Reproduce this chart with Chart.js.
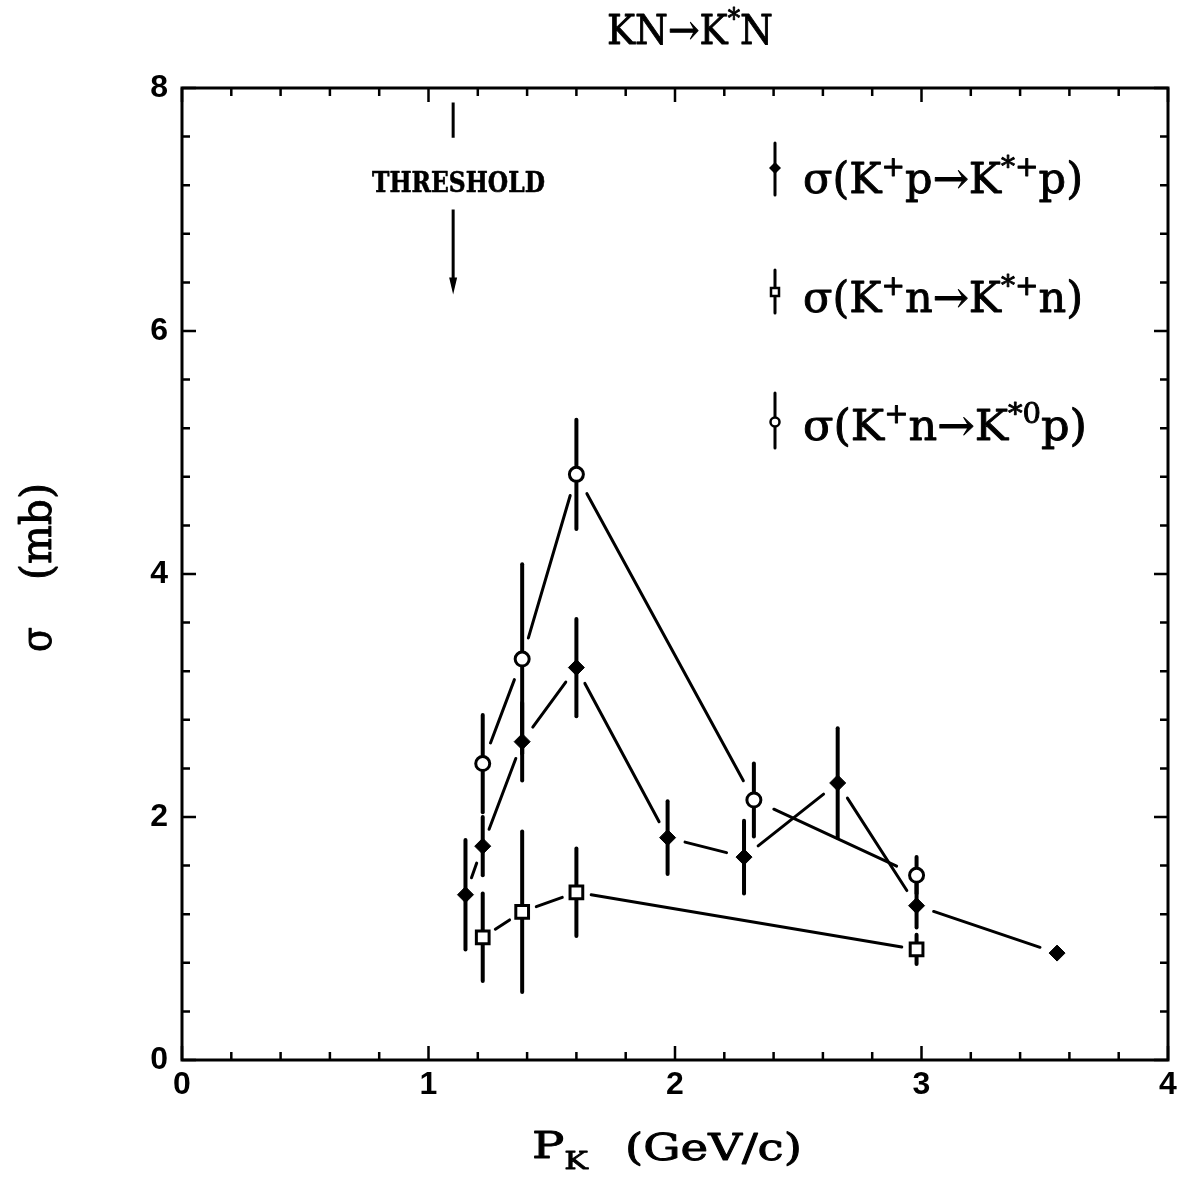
<!DOCTYPE html>
<html>
<head>
<meta charset="utf-8">
<title>KN→K*N</title>
<script src="https://cdn.jsdelivr.net/npm/chart.js@4.4.1/dist/chart.umd.min.js"></script>
<style>
  html, body { margin: 0; padding: 0; background: #fff; }
  #wrap { width: 1194px; height: 1182px; }
</style>
</head>
<body>
<div id="wrap"><canvas id="c" width="1194" height="1182"></canvas></div>
<script>
// Beam momentum P_K (GeV/c), cross section sigma (mb) and its error (mb)

// sigma(K+ p -> K*+ p)
const kpP     = [1.15, 1.22, 1.38, 1.60, 1.97, 2.28, 2.66, 2.98, 3.55];
const kpSigma = [1.36, 1.76, 2.62, 3.23, 1.83, 1.67, 2.28, 1.27, 0.88];
const kpErr   = [0.45, 0.24, 0.32, 0.40, 0.30, 0.30, 0.45, 0.18, 0.00];

// sigma(K+ n -> K*+ n)
const knP     = [1.22, 1.38, 1.60, 2.98];
const knSigma = [1.01, 1.22, 1.38, 0.91];
const knErr   = [0.36, 0.66, 0.36, 0.12];

// sigma(K+ n -> K*0 p)
const k0P     = [1.22, 1.38, 1.60, 2.32, 2.98];
const k0Sigma = [2.44, 3.30, 4.82, 2.14, 1.52];
const k0Err   = [0.40, 0.78, 0.45, 0.30, 0.15];

// axis ticks
const xMajorTicks = [0, 1, 2, 3, 4];
const yMajorTicks = [0, 2, 4, 6, 8];
const xMinorStep = 0.2;
const yMinorStep = 0.4;

// threshold momentum marked with an arrow
const thresholdP = 1.10;

const SERIF = '"DejaVu Serif", "Liberation Serif", serif';
const TICK_FONT = { family: '"Liberation Sans", Arial, sans-serif', size: 32, weight: 'bold' };

function partFont(p, size, weight) {
  const s = p.s ? Math.round(size * 0.66) : size;
  return (weight || 'normal') + ' ' + s + 'px ' + SERIF;
}

// draws a run of text with super/subscripts, stretched horizontally to a given width
function drawRich(ctx, parts, x, y, size, targetW, opts) {
  opts = opts || {};
  let nat = 0;
  for (const p of parts) { ctx.font = partFont(p, size, opts.weight); nat += ctx.measureText(p.t).width; }
  const sx = targetW ? targetW / nat : 1;
  ctx.save();
  ctx.translate(x, y);
  if (opts.rotate) ctx.rotate(opts.rotate);
  ctx.scale(sx, 1);
  ctx.fillStyle = '#000';
  ctx.strokeStyle = '#000';
  ctx.lineWidth = opts.stroke || 0.9;
  ctx.lineJoin = 'round';
  ctx.textAlign = 'left';
  ctx.textBaseline = 'alphabetic';
  let cx = 0;
  for (const p of parts) {
    ctx.font = partFont(p, size, opts.weight);
    const dy = p.s === 'sup' ? -size * 0.40 : (p.s === 'sub' ? size * 0.28 : 0);
    ctx.fillText(p.t, cx, dy);
    ctx.strokeText(p.t, cx, dy);
    cx += ctx.measureText(p.t).width;
  }
  ctx.restore();
}

function pts(xs, ys) { return xs.map((x, i) => ({ x: x, y: ys[i] })); }

const legendItems = [
  { parts: [{t:'σ(K'},{t:'+',s:'sup'},{t:'p→K'},{t:'*+',s:'sup'},{t:'p)'}], ds: 0 },
  { parts: [{t:'σ(K'},{t:'+',s:'sup'},{t:'n→K'},{t:'*+',s:'sup'},{t:'n)'}], ds: 1 },
  { parts: [{t:'σ(K'},{t:'+',s:'sup'},{t:'n→K'},{t:'*0',s:'sup'},{t:'p)'}], ds: 2 }
];

function drawMarker(ctx, style, x, y, r) {
  ctx.save();
  ctx.lineWidth = 2.5;
  ctx.strokeStyle = '#000';
  ctx.beginPath();
  if (style === 'rectRot') {
    ctx.moveTo(x, y - r); ctx.lineTo(x + r, y); ctx.lineTo(x, y + r); ctx.lineTo(x - r, y); ctx.closePath();
    ctx.fillStyle = '#000'; ctx.fill();
  } else if (style === 'rect') {
    ctx.rect(x - r, y - r, 2 * r, 2 * r);
    ctx.fillStyle = '#fff'; ctx.fill(); ctx.stroke();
  } else {
    ctx.arc(x, y, r, 0, Math.PI * 2);
    ctx.fillStyle = '#fff'; ctx.fill(); ctx.stroke();
  }
  ctx.restore();
}

const decorPlugin = {
  id: 'decor',
  beforeDatasetsDraw(chart) {
    const ctx = chart.ctx;
    const ys = chart.scales.y;
    ctx.save();
    ctx.strokeStyle = '#000';
    ctx.lineCap = 'round';
    chart.data.datasets.forEach((ds, i) => {
      const meta = chart.getDatasetMeta(i);
      // connecting line, broken around each marker
      ctx.lineWidth = 3;
      for (let k = 0; k < meta.data.length - 1; k++) {
        const a = meta.data[k], b = meta.data[k + 1];
        const dx = b.x - a.x, dy = b.y - a.y;
        const len = Math.hypot(dx, dy);
        const g = ds.gap;
        if (len <= 2 * g) continue;
        const ux = dx / len, uy = dy / len;
        ctx.beginPath();
        ctx.moveTo(a.x + ux * g, a.y + uy * g);
        ctx.lineTo(b.x - ux * g, b.y - uy * g);
        ctx.stroke();
      }
      // error bars
      ctx.lineWidth = 4;
      meta.data.forEach((el, k) => {
        const e = ds.err[k];
        if (!e) return;
        const v = ds.data[k].y;
        ctx.beginPath();
        ctx.moveTo(el.x, ys.getPixelForValue(v + e));
        ctx.lineTo(el.x, ys.getPixelForValue(v - e));
        ctx.stroke();
      });
    });
    ctx.restore();
  },
  afterDraw(chart) {
    const ctx = chart.ctx;
    const a = chart.chartArea;
    const xs = chart.scales.x, ys = chart.scales.y;
    ctx.save();
    ctx.strokeStyle = '#000';
    ctx.fillStyle = '#000';

    // frame
    ctx.lineWidth = 3;
    ctx.strokeRect(a.left, a.top, a.right - a.left, a.bottom - a.top);

    // inward ticks on all four sides
    ctx.lineWidth = 2.5;
    const nx = Math.round((xs.max - xs.min) / xMinorStep);
    for (let i = 0; i <= nx; i++) {
      const v = xs.min + i * xMinorStep;
      const major = xMajorTicks.some(t => Math.abs(t - v) < 1e-6);
      const L = major ? 14 : 8;
      const px = xs.getPixelForValue(v);
      ctx.beginPath();
      ctx.moveTo(px, a.bottom); ctx.lineTo(px, a.bottom - L);
      ctx.moveTo(px, a.top); ctx.lineTo(px, a.top + L);
      ctx.stroke();
    }
    const ny = Math.round((ys.max - ys.min) / yMinorStep);
    for (let i = 0; i <= ny; i++) {
      const v = ys.min + i * yMinorStep;
      const major = yMajorTicks.some(t => Math.abs(t - v) < 1e-6);
      const L = major ? 14 : 8;
      const py = ys.getPixelForValue(v);
      ctx.beginPath();
      ctx.moveTo(a.left, py); ctx.lineTo(a.left + L, py);
      ctx.moveTo(a.right, py); ctx.lineTo(a.right - L, py);
      ctx.stroke();
    }

    // threshold arrow
    const tx = xs.getPixelForValue(thresholdP);
    ctx.lineWidth = 3;
    ctx.beginPath();
    ctx.moveTo(tx, ys.getPixelForValue(7.88)); ctx.lineTo(tx, ys.getPixelForValue(7.59));
    ctx.moveTo(tx, ys.getPixelForValue(7.00)); ctx.lineTo(tx, ys.getPixelForValue(6.42));
    ctx.stroke();
    const tipY = ys.getPixelForValue(6.30);
    ctx.beginPath();
    ctx.moveTo(tx, tipY); ctx.lineTo(tx - 4, tipY - 17); ctx.lineTo(tx + 4, tipY - 17); ctx.closePath();
    ctx.fill();
    drawRich(ctx, [{t:'THRESHOLD'}], 372, 192, 28, 173, { weight: 'bold', stroke: 0.6 });

    // title
    drawRich(ctx, [{t:'KN→K'},{t:'*',s:'sup'},{t:'N'}], 607, 44, 41, 166);

    // axis titles
    drawRich(ctx, [{t:'P'},{t:'K',s:'sub'}], 532, 1158, 38, 56);
    drawRich(ctx, [{t:'(GeV/c)'}], 625, 1160, 37, 177);
    drawRich(ctx, [{t:'σ'}], 51, 652, 42, 25, { rotate: -Math.PI / 2 });
    drawRich(ctx, [{t:'(mb)'}], 51, 580, 42, 97, { rotate: -Math.PI / 2 });

    // legend
    const legendRows = [{ y: 168, top: 143, bot: 195, base: 193, w: 280 },
                        { y: 292, top: 270, bot: 313, base: 312, w: 280 },
                        { y: 422, top: 393, bot: 448, base: 440, w: 284 }];
    legendItems.forEach((it, i) => {
      const row = legendRows[i];
      const ds = chart.data.datasets[it.ds];
      ctx.lineWidth = 3;
      ctx.lineCap = 'round';
      ctx.beginPath();
      ctx.moveTo(775, row.top); ctx.lineTo(775, row.bot);
      ctx.stroke();
      const r = ds.pointStyle === 'rectRot' ? 6 : (ds.pointStyle === 'rect' ? 4 : 4.5);
      drawMarker(ctx, ds.pointStyle, 775, row.y, r);
      drawRich(ctx, it.parts, 803, row.base, 43, row.w);
    });
    ctx.restore();
  }
};

new Chart(document.getElementById('c').getContext('2d'), {
  type: 'scatter',
  data: {
    datasets: [
      { label: 'σ(K⁺p→K*⁺p)', data: pts(kpP, kpSigma), err: kpErr, gap: 18,
        pointStyle: 'rectRot', pointRadius: 8, backgroundColor: '#000', borderColor: '#000', borderWidth: 1 },
      { label: 'σ(K⁺n→K*⁺n)', data: pts(knP, knSigma), err: knErr, gap: 15,
        pointStyle: 'rect', pointRadius: 9, backgroundColor: '#fff', borderColor: '#000', borderWidth: 3 },
      { label: 'σ(K⁺n→K*⁰p)', data: pts(k0P, k0Sigma), err: k0Err, gap: 22,
        pointStyle: 'circle', pointRadius: 7, backgroundColor: '#fff', borderColor: '#000', borderWidth: 3 }
    ]
  },
  options: {
    responsive: false,
    animation: false,
    devicePixelRatio: 1,
    layout: { padding: { left: 0, right: 26, top: 88, bottom: 0 } },
    plugins: { legend: { display: false }, title: { display: false }, tooltip: { enabled: false } },
    elements: { point: { hoverRadius: 8 } },
    scales: {
      x: {
        type: 'linear', min: 0, max: 4,
        afterBuildTicks(s) { s.ticks = xMajorTicks.map(v => ({ value: v })); },
        ticks: { font: TICK_FONT, color: '#000', padding: 6, maxRotation: 0, autoSkip: false },
        grid: { display: false, drawTicks: false },
        border: { display: false },
        afterFit(s) { s.height = 122; }
      },
      y: {
        type: 'linear', min: 0, max: 8,
        afterBuildTicks(s) { s.ticks = yMajorTicks.map(v => ({ value: v })); },
        ticks: { font: TICK_FONT, color: '#000', padding: 14, autoSkip: false },
        grid: { display: false, drawTicks: false },
        border: { display: false },
        afterFit(s) { s.width = 182; }
      }
    }
  },
  plugins: [decorPlugin]
});
</script>
</body>
</html>
